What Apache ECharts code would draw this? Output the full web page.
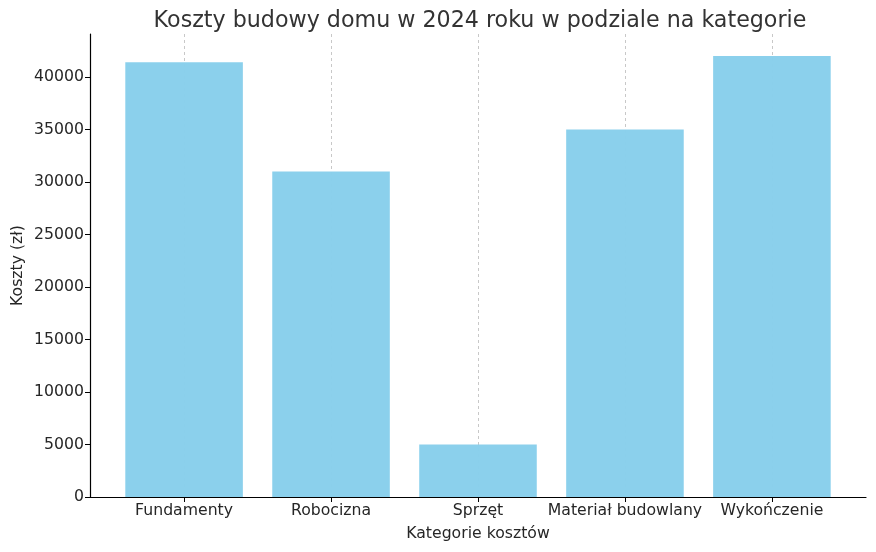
<!DOCTYPE html>
<html><head><meta charset="utf-8">
<script src="https://cdn.jsdelivr.net/npm/echarts@6/dist/echarts.min.js"></script>
<style>html,body{margin:0;padding:0;background:#fff}#c{width:876px;height:552px}</style>
</head><body><div id="c"></div>
<script>
const categories = ['Fundamenty', 'Robocizna', 'Sprzęt', 'Materiał budowlany', 'Wykończenie'];
const costs = [41400, 31000, 5000, 35000, 42000];
const yTicks = {min: 0, max: 44100, interval: 5000};
const titleText = 'Koszty budowy domu w 2024 roku w podziale na kategorie';

const font = 'DejaVu Sans';
const txt = '#262626';
const chart = echarts.init(document.getElementById('c'), null, {renderer: 'canvas'});
const gridBase = {top: 34, bottom: 55, containLabel: false, outerBoundsMode: 'none'};
chart.setOption({
  animation: false,
  backgroundColor: '#fff',
  title: {text: titleText, left: 475, textAlign: 'center', top: 5,
    textStyle: {fontFamily: font, fontSize: 22.2, fontWeight: 'normal', color: '#333'}},
  grid: [
    Object.assign({left: 90, right: 10}, gridBase),
    Object.assign({left: 110.6, right: 30.6}, gridBase),
    Object.assign({left: 184.3, right: 103.7}, gridBase)
  ],
  xAxis: [
    {gridIndex: 0, type: 'value', min: 0, max: 1, axisLine: {show: true, lineStyle: {color: '#000', width: 1.2}},
      axisTick: {show: false}, axisLabel: {show: false}, splitLine: {show: false}},
    {gridIndex: 1, type: 'category', data: categories, axisLine: {show: false},
      axisTick: {show: true, alignWithLabel: true, length: 5, lineStyle: {color: '#000'}},
      axisLabel: {fontFamily: font, fontSize: 15.7, color: txt, margin: 6, interval: 0, hideOverlap: false},
      name: 'Kategorie kosztów', nameLocation: 'middle', nameGap: 29,
      nameTextStyle: {fontFamily: font, fontSize: 15.7, color: txt},
      splitLine: {show: false}},
    {gridIndex: 2, type: 'category', data: categories, boundaryGap: false, show: true,
      axisLine: {show: false}, axisTick: {show: false}, axisLabel: {show: false},
      splitLine: {show: true, lineStyle: {color: '#c8c8c8', type: [3, 3], width: 1}}}
  ],
  yAxis: [
    {gridIndex: 0, type: 'value', min: yTicks.min, max: yTicks.max, interval: yTicks.interval,
      axisLine: {show: true, lineStyle: {color: '#000', width: 1.2}},
      axisTick: {show: true, length: 5, lineStyle: {color: '#000'}},
      axisLabel: {fontFamily: font, fontSize: 15.7, color: txt, margin: 6,
        showMaxLabel: false, formatter: v => String(v)},
      splitLine: {show: false},
      name: 'Koszty (zł)', nameLocation: 'middle', nameGap: 64, nameRotate: 90,
      nameMoveOverlap: false,
      nameTextStyle: {fontFamily: font, fontSize: 15.7, color: txt}},
    {gridIndex: 1, type: 'value', min: yTicks.min, max: yTicks.max, show: false, splitLine: {show: false}},
    {gridIndex: 2, type: 'value', min: yTicks.min, max: yTicks.max, show: false, splitLine: {show: false}}
  ],
  series: [{
    type: 'bar', xAxisIndex: 1, yAxisIndex: 1, data: costs, barWidth: '80%', z: 3,
    itemStyle: {color: '#87CEEB', borderWidth: 0, opacity: 0.97}
  }]
});
</script></body></html>
